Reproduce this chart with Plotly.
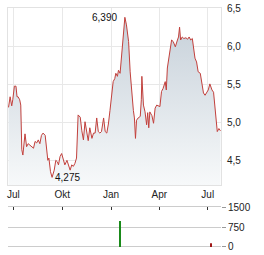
import plotly.graph_objects as go

dates = [
    "2023-06-22", "2023-06-25", "2023-06-28", "2023-06-30", "2023-07-03", "2023-07-06", "2023-07-08", "2023-07-10",
    "2023-07-13", "2023-07-15", "2023-07-17", "2023-07-19", "2023-07-23", "2023-07-26", "2023-07-29", "2023-08-01",
    "2023-08-05", "2023-08-08", "2023-08-11", "2023-08-14", "2023-08-17", "2023-08-20", "2023-08-23", "2023-08-26",
    "2023-08-30", "2023-09-02", "2023-09-04", "2023-09-06", "2023-09-09", "2023-09-12", "2023-09-16", "2023-09-19",
    "2023-09-22", "2023-09-24", "2023-09-27", "2023-09-30", "2023-10-03", "2023-10-06", "2023-10-10", "2023-10-13",
    "2023-10-16", "2023-10-19", "2023-10-22", "2023-10-25", "2023-10-28", "2023-10-31", "2023-11-04", "2023-11-07",
    "2023-11-10", "2023-11-13", "2023-11-16", "2023-11-19", "2023-11-22", "2023-11-26", "2023-11-29", "2023-12-02",
    "2023-12-05", "2023-12-08", "2023-12-11", "2023-12-14", "2023-12-18", "2023-12-21", "2023-12-24", "2023-12-27",
    "2023-12-30", "2024-01-02", "2024-01-05", "2024-01-08", "2024-01-10", "2024-01-13", "2024-01-15", "2024-01-18",
    "2024-01-21", "2024-01-24", "2024-01-27", "2024-01-30", "2024-02-03", "2024-02-06", "2024-02-09", "2024-02-12",
    "2024-02-14", "2024-02-16", "2024-02-18", "2024-02-21", "2024-02-25", "2024-02-27", "2024-02-28", "2024-03-02",
    "2024-03-05", "2024-03-08", "2024-03-10", "2024-03-12", "2024-03-14", "2024-03-18", "2024-03-21", "2024-03-24",
    "2024-03-27", "2024-03-31", "2024-04-02", "2024-04-05", "2024-04-08", "2024-04-12", "2024-04-14", "2024-04-16",
    "2024-04-18", "2024-04-21", "2024-04-24", "2024-04-27", "2024-05-01", "2024-05-05", "2024-05-07", "2024-05-09",
    "2024-05-11", "2024-05-14", "2024-05-17", "2024-05-21", "2024-05-24", "2024-05-27", "2024-05-30", "2024-06-02",
    "2024-06-04", "2024-06-07", "2024-06-10", "2024-06-13", "2024-06-17", "2024-06-20", "2024-06-23", "2024-06-26",
    "2024-06-29", "2024-07-02", "2024-07-05", "2024-07-09", "2024-07-12", "2024-07-15", "2024-07-17", "2024-07-19",
    "2024-07-22", "2024-07-25",
]

prices = [
    5.20, 5.34, 5.22, 5.30, 5.48, 5.48, 5.34, 5.34,
    5.30, 5.23, 4.64, 4.57, 4.85, 4.68, 4.72, 4.70,
    4.68, 4.66, 4.75, 4.73, 4.77, 4.72, 4.83, 4.86,
    4.83, 4.59, 4.50, 4.53, 4.35, 4.275, 4.37, 4.50,
    4.48, 4.44, 4.55, 4.59, 4.50, 4.44, 4.50, 4.42,
    4.37, 4.44, 4.42, 4.46, 4.53, 5.10, 5.07, 4.89,
    4.77, 5.01, 4.86, 4.76, 4.93, 4.79, 4.86, 4.86,
    5.06, 4.88, 4.86, 4.88, 5.06, 4.88, 4.86, 4.98,
    5.16, 5.32, 5.54, 5.58, 5.65, 5.61, 5.69, 5.65,
    5.89, 6.11, 6.39, 6.29, 6.07, 5.67, 5.36, 5.16,
    5.06, 4.79, 5.03, 5.06, 5.08, 5.30, 5.61, 5.23,
    5.14, 4.97, 5.13, 4.93, 5.14, 5.09, 4.99, 5.19,
    5.23, 5.21, 5.21, 5.41, 5.45, 5.54, 5.43, 5.72,
    5.80, 5.96, 6.09, 6.07, 6.00, 6.09, 6.13, 6.26,
    6.09, 6.13, 6.11, 6.12, 6.10, 6.13, 6.09, 6.11,
    5.98, 5.85, 5.80, 5.67, 5.65, 5.54, 5.39, 5.36,
    5.39, 5.43, 5.51, 5.43, 5.40, 5.21, 5.01, 4.88,
    4.92, 4.89,
]

vol_dates = ["2024-01-18", "2024-07-07"]
vol_values = [980, 140]
vol_colors = ["#1a8a1a", "#a01818"]

x_tick_vals = ["2023-07-01", "2023-10-01", "2024-01-01", "2024-04-01", "2024-07-01"]
x_tick_text = ["Jul", "Okt", "Jan", "Apr", "Jul"]
y_tick_vals = [4.5, 5.0, 5.5, 6.0, 6.5]
y_tick_text = ["4,5", "5,0", "5,5", "6,0", "6,5"]
v_tick_vals = [0, 750, 1500]
v_tick_text = ["0", "750", "1500"]

X_RANGE = ["2023-06-21", "2024-07-26"]
FONT = "Liberation Sans, Arial, sans-serif"
TXT = "#222222"

fig = go.Figure()
fig.add_trace(go.Scatter(
    x=dates, y=prices, mode="lines",
    line=dict(color="#c2403c", width=1),
    fill="tozeroy",
    fillgradient=dict(type="vertical",
                      colorscale=[[0, "rgb(247,249,250)"], [1, "rgb(198,208,217)"]],
                      start=4.17, stop=6.4),
    xaxis="x", yaxis="y", hoverinfo="skip",
))
fig.add_trace(go.Bar(
    x=vol_dates, y=vol_values, marker=dict(color=vol_colors, line=dict(width=0)),
    width=[2 * 86400000] * len(vol_dates), xaxis="x2", yaxis="y2", hoverinfo="skip",
))

i_max = prices.index(max(prices))
i_min = prices.index(min(prices))
fmt = lambda v: f"{v:.3f}".replace(".", ",")

fig.update_layout(
    width=264, height=255,
    margin=dict(l=8, r=43, t=8, b=8, autoexpand=False),
    paper_bgcolor="white", plot_bgcolor="white",
    showlegend=False,
    font=dict(family=FONT, size=10, color=TXT),
    xaxis=dict(
        domain=[0, 1], anchor="y", range=X_RANGE,
        tickvals=x_tick_vals, ticktext=x_tick_text, ticks="",
        showgrid=True, gridcolor="#e8e8e8", gridwidth=1,
        showline=True, linecolor="#e2e2e2", mirror=True, zeroline=False,
        tickfont=dict(size=10, color=TXT), automargin=False,
    ),
    yaxis=dict(
        domain=[0.2594, 1], anchor="x", side="right", range=[4.174, 6.513],
        tickvals=y_tick_vals, ticktext=y_tick_text, ticks="",
        showgrid=True, gridcolor="#e8e8e8", gridwidth=1,
        showline=True, linecolor="#e2e2e2", mirror=True, zeroline=False,
        tickfont=dict(size=10, color=TXT), ticklabelstandoff=3, automargin=False,
    ),
    xaxis2=dict(
        domain=[0, 1], anchor="y2", range=X_RANGE, side="top",
        tickvals=x_tick_vals, ticks="inside", ticklen=3, tickcolor="#333333",
        showticklabels=False, showgrid=False,
        showline=True, linecolor="#cccccc", linewidth=1, zeroline=False,
        automargin=False,
    ),
    yaxis2=dict(
        domain=[0, 0.167], anchor="x2", side="right", range=[0, 1500],
        tickvals=v_tick_vals, ticktext=v_tick_text,
        ticks="outside", ticklen=4, tickcolor="#999999",
        showgrid=True, gridcolor="#cccccc", gridwidth=1,
        showline=False, zeroline=True, zerolinecolor="#cccccc", zerolinewidth=1,
        tickfont=dict(size=10, color=TXT), automargin=False,
    ),
    annotations=[
        dict(x=dates[i_max], y=prices[i_max], xref="x", yref="y", text=fmt(prices[i_max]),
             showarrow=False, xanchor="right", yanchor="middle", xshift=-6,
             font=dict(size=10, color="#111111")),
        dict(x=dates[i_min], y=prices[i_min], xref="x", yref="y", text=fmt(prices[i_min]),
             showarrow=False, xanchor="left", yanchor="middle", xshift=1,
             font=dict(size=10, color="#111111")),
    ],
)

fig.write_html("out.html")
